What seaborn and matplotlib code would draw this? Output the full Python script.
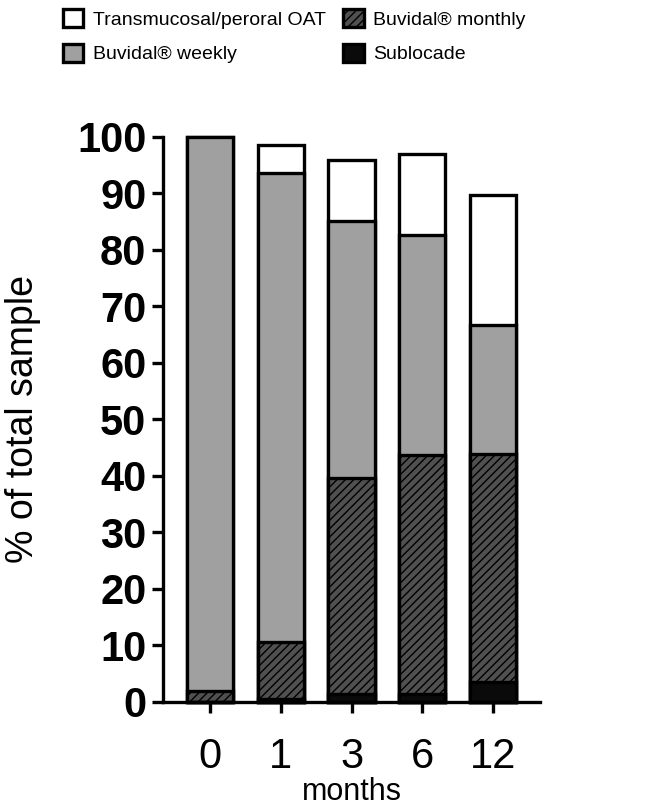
import matplotlib
matplotlib.use("Agg")
import matplotlib.pyplot as plt
from matplotlib.patches import Patch
import seaborn as sns
import pandas as pd

months = ["0", "1", "3", "6", "12"]
oat = [0.0, 4.8, 10.8, 14.2, 23.0]
weekly = [98.0, 83.1, 45.5, 39.0, 22.8]
monthly = [2.0, 10.0, 38.3, 42.3, 40.3]
sublocade = [0.0, 0.6, 1.4, 1.4, 3.6]
yticks = [0, 10, 20, 30, 40, 50, 60, 70, 80, 90, 100]

sns.set_theme(style="ticks")
plt.rcParams["font.family"] = ["Liberation Sans", "DejaVu Sans"]
plt.rcParams["text.color"] = "black"
plt.rcParams["axes.labelcolor"] = "black"
plt.rcParams["xtick.color"] = "black"
plt.rcParams["ytick.color"] = "black"
plt.rcParams["hatch.linewidth"] = 1.0
plt.rcParams["hatch.color"] = "black"

df = pd.DataFrame({"months": months, "oat": oat, "weekly": weekly,
                   "monthly": monthly, "sublocade": sublocade})
df["c_sub"] = df["sublocade"]
df["c_mon"] = df["c_sub"] + df["monthly"]
df["c_week"] = df["c_mon"] + df["weekly"]
df["c_oat"] = df["c_week"] + df["oat"]

fig = plt.figure(figsize=(6.46, 8.09), dpi=100)
ax = fig.add_axes([0.2523, 0.1323, 0.836 - 0.2523, 0.8307 - 0.1323])

lw = 2.4
common = dict(data=df, x="months", order=months, width=0.65,
              edgecolor="black", linewidth=lw, ax=ax, errorbar=None)
layers = [("c_oat", "white", None), ("c_week", "#a0a0a0", None),
          ("c_mon", "#505050", "////"), ("c_sub", "#0a0a0a", None)]
for col, color, hatch in layers:
    n0 = len(ax.patches)
    sns.barplot(y=col, color=color, saturation=1, **common)
    for p in ax.patches[n0:]:
        p.set_facecolor(color)
        p.set_clip_on(False)
        if hatch:
            p.set_hatch(hatch)

ax.set_xlim(-0.66, 4.66)
ax.set_ylim(0, 100)
ax.set_yticks(yticks)
ax.set_yticklabels([str(v) for v in yticks], fontsize=30, fontweight="bold", color="black")
ax.set_xticks(range(len(months)))
ax.set_xticklabels(months, fontsize=30, color="black")
ax.tick_params(axis="y", direction="out", length=8, width=lw, color="black", pad=4)
ax.tick_params(axis="x", direction="out", length=8, width=lw, color="black", pad=17)
ax.set_xlabel("months", fontsize=22, labelpad=0, color="black")
ax.set_ylabel("% of total sample", fontsize=27, labelpad=26, color="black")
sns.despine(ax=ax)
for s in ["left", "bottom"]:
    ax.spines[s].set_linewidth(lw)
    ax.spines[s].set_color("black")

handles = [
    Patch(facecolor="white", edgecolor="black", linewidth=2.4, label="Transmucosal/peroral OAT"),
    Patch(facecolor="#a0a0a0", edgecolor="black", linewidth=2.4, label="Buvidal® weekly"),
    Patch(facecolor="#505050", edgecolor="black", linewidth=2.4, hatch="////", label="Buvidal® monthly"),
    Patch(facecolor="#0a0a0a", edgecolor="black", linewidth=2.4, label="Sublocade"),
]
fig.legend(handles=handles, loc="upper left", bbox_to_anchor=(0.07, 1.01), ncol=2,
           frameon=False, fontsize=14, handlelength=1.05, handleheight=1.05,
           handletextpad=0.5, columnspacing=0.9, labelspacing=0.75)

fig.savefig("out.png", dpi=100)
